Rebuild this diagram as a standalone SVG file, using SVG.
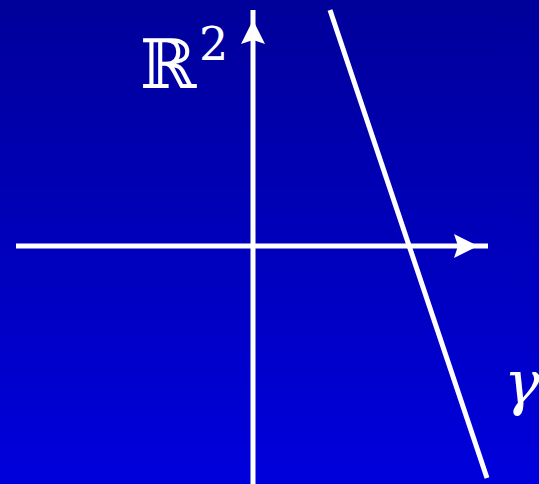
<svg xmlns="http://www.w3.org/2000/svg" width="539" height="484" viewBox="0 0 539 484">
<defs>
<linearGradient id="bg" x1="0" y1="0" x2="0" y2="1">
<stop offset="0" stop-color="#00009a"/>
<stop offset="1" stop-color="#0000dc"/>
</linearGradient>
<style>
.ax{stroke:#fff;stroke-width:5;fill:none}
.hd{fill:#fff}
.lbl{fill:#fff;font-family:"DejaVu Serif","Liberation Serif",serif}
</style>
</defs>
<rect width="539" height="484" fill="url(#bg)"/>
<g id="connectors">
<line class="ax" x1="16" y1="246" x2="488" y2="246"/>
<path class="hd" d="M478,246 L454,234 L458,246 L454,258 Z"/>
<line class="ax" x1="253" y1="484" x2="253" y2="10"/>
<path class="hd" d="M253,20 L241,44 L253,40 L265,44 Z"/>
<line class="ax" x1="330" y1="10" x2="487" y2="478"/>
</g>
<g id="label-R2">
<text class="lbl" x="140" y="88" font-size="68">ℝ</text>
<text class="lbl" x="199" y="60" font-size="46" font-family="Liberation Serif">2</text>
</g>
<g id="label-gamma">
<text class="lbl" x="504" y="404" font-size="60" font-style="italic" font-family="Liberation Serif">γ</text>
</g>
</svg>
